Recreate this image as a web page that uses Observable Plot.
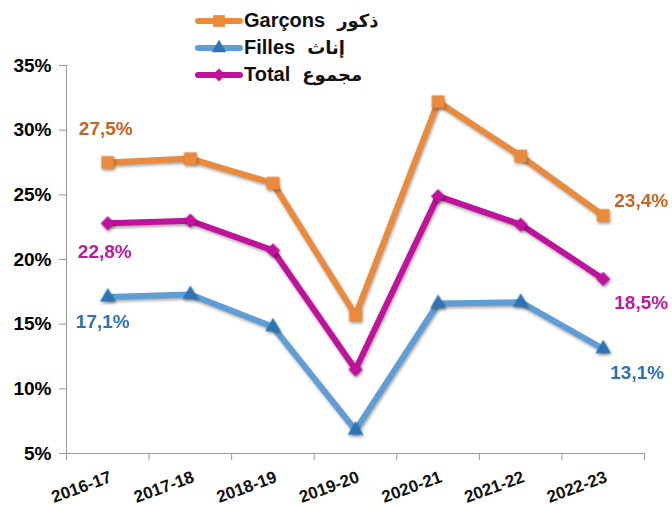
<!DOCTYPE html>
<html>
<head>
<meta charset="utf-8">
<script src="https://cdn.jsdelivr.net/npm/d3@7"></script>
<script src="https://cdn.jsdelivr.net/npm/@observablehq/plot@0.6"></script>
<style>
  html, body { margin: 0; padding: 0; background: #fff; }
  #wrap { position: relative; width: 672px; height: 506px; font-family: Arial, "Liberation Sans", sans-serif; }
  #legend { position: absolute; left: 195px; top: 7px; }
  .row { display: flex; align-items: center; height: 27px; font-weight: bold; font-size: 20px; color: #111; }
  .row svg { margin-right: 1px; }
  .ar { margin-left: 12px; font-family: "DejaVu Sans", sans-serif; font-size: 18px; }
</style>
</head>
<body>
<div id="wrap"><div id="legend"></div></div>
<script>
// ---- data ----
const years = ["2016-17", "2017-18", "2018-19", "2019-20", "2020-21", "2021-22", "2022-23"];
const garcons = [27.5, 27.8, 25.9, 15.7, 32.2, 28.0, 23.4];
const filles  = [17.1, 17.3, 14.8, 6.8, 16.6, 16.7, 13.1];
const total   = [22.8, 23.0, 20.7, 11.5, 24.9, 22.7, 18.5];
const seriesNames = ["Garçons", "Filles", "Total"];
const seriesArabic = ["ذكور", "إناث", "مجموع"];
const yTicks = [5, 10, 15, 20, 25, 30, 35];

// ---- styles ----
const styles = {
  "Garçons": {line: "#EC8A3C", marker: "#EC8A3C", label: "#C8641E", symbol: "square", r: 7.2,
              first: {dx: -2, dy: -34}, last: {dx: 38, dy: -15}},
  "Filles":  {line: "#5E9DD6", marker: "#2E74B5", label: "#2F72B3", symbol: "triangle", r: 5.8,
              first: {dx: -5, dy: 25}, last: {dx: 34, dy: 24}},
  "Total":   {line: "#C0129C", marker: "#C0129C", label: "#C0189C", symbol: "diamond2", r: 6.4,
              first: {dx: -3, dy: 29}, last: {dx: 38, dy: 24}}
};

const valuesBySeries = {"Garçons": garcons, "Filles": filles, "Total": total};
const rows = seriesNames.flatMap(s => valuesBySeries[s].map((v, i) => ({series: s, i, year: years[i], v})));
const fmt = v => v.toFixed(1).replace(".", ",") + "%";
const shadow = "drop-shadow(1.5px 2.5px 1.5px rgba(0,0,0,0.35))";

const marks = [
  Plot.ruleY([5], {stroke: "#9a9a9a", strokeWidth: 1}),
  Plot.ruleX([-0.5], {stroke: "#9a9a9a", strokeWidth: 1}),
  Plot.axisY({ticks: yTicks, tickFormat: d => d + "%", tickSize: 7, tickPadding: 8, stroke: "#9a9a9a", fill: "#000",
              fontSize: 19, fontWeight: "bold", label: null}),
  Plot.axisX({ticks: d3.range(-0.5, years.length, 1), tickFormat: () => "", tickSize: 7, stroke: "#9a9a9a", label: null}),
  Plot.text(years, {x: (d, i) => i, y: 5, text: d => d, rotate: -20, textAnchor: "end", dx: 3, dy: 23,
                    fontSize: 17, fontWeight: "bold", fill: "#111"})
];

for (const s of seriesNames) {
  const st = styles[s];
  const data = rows.filter(d => d.series === s);
  marks.push(Plot.line(data, {x: "i", y: "v", stroke: st.line, strokeWidth: 6, imageFilter: shadow}));
  marks.push(Plot.dot(data, {x: "i", y: "v", symbol: () => st.symbol, r: st.r, fill: st.marker, stroke: "none", imageFilter: shadow}));
  const first = data[0], last = data[data.length - 1];
  marks.push(Plot.text([first], {x: "i", y: "v", text: d => fmt(d.v), dx: st.first.dx, dy: st.first.dy,
                                 fill: st.label, fontSize: 19, fontWeight: "bold"}));
  marks.push(Plot.text([last], {x: "i", y: "v", text: d => fmt(d.v), dx: st.last.dx, dy: st.last.dy,
                                fill: st.label, fontSize: 19, fontWeight: "bold"}));
}

const chart = Plot.plot({
  width: 672, height: 506,
  marginLeft: 66, marginRight: 28, marginTop: 65, marginBottom: 53,
  style: {fontFamily: "Arial, 'Liberation Sans', sans-serif", background: "#fff", overflow: "visible"},
  x: {type: "linear", domain: [-0.5, years.length - 0.5], axis: null},
  y: {type: "linear", domain: [5, 35], axis: null},
  symbol: {type: "identity"},
  marks
});
document.getElementById("wrap").insertBefore(chart, document.getElementById("legend"));

// ---- legend ----
const legend = document.getElementById("legend");
seriesNames.forEach((s, k) => {
  const st = styles[s];
  const row = document.createElement("div");
  row.className = "row";
  const sym = d3.symbol(st.symbol === "square" ? d3.symbolSquare : st.symbol === "triangle" ? d3.symbolTriangle : d3.symbolDiamond2,
                        Math.PI * st.r * st.r * 0.85)();
  row.innerHTML = `<svg width="48" height="20"><line x1="3" x2="45" y1="10" y2="10" stroke="${st.line}" stroke-width="6" stroke-linecap="round"/>` +
                  `<path d="${sym}" transform="translate(24,10)" fill="${st.marker}"/></svg>` +
                  `<span>${s}</span><span class="ar">${seriesArabic[k]}</span>`;
  legend.appendChild(row);
});
</script>
</body>
</html>
